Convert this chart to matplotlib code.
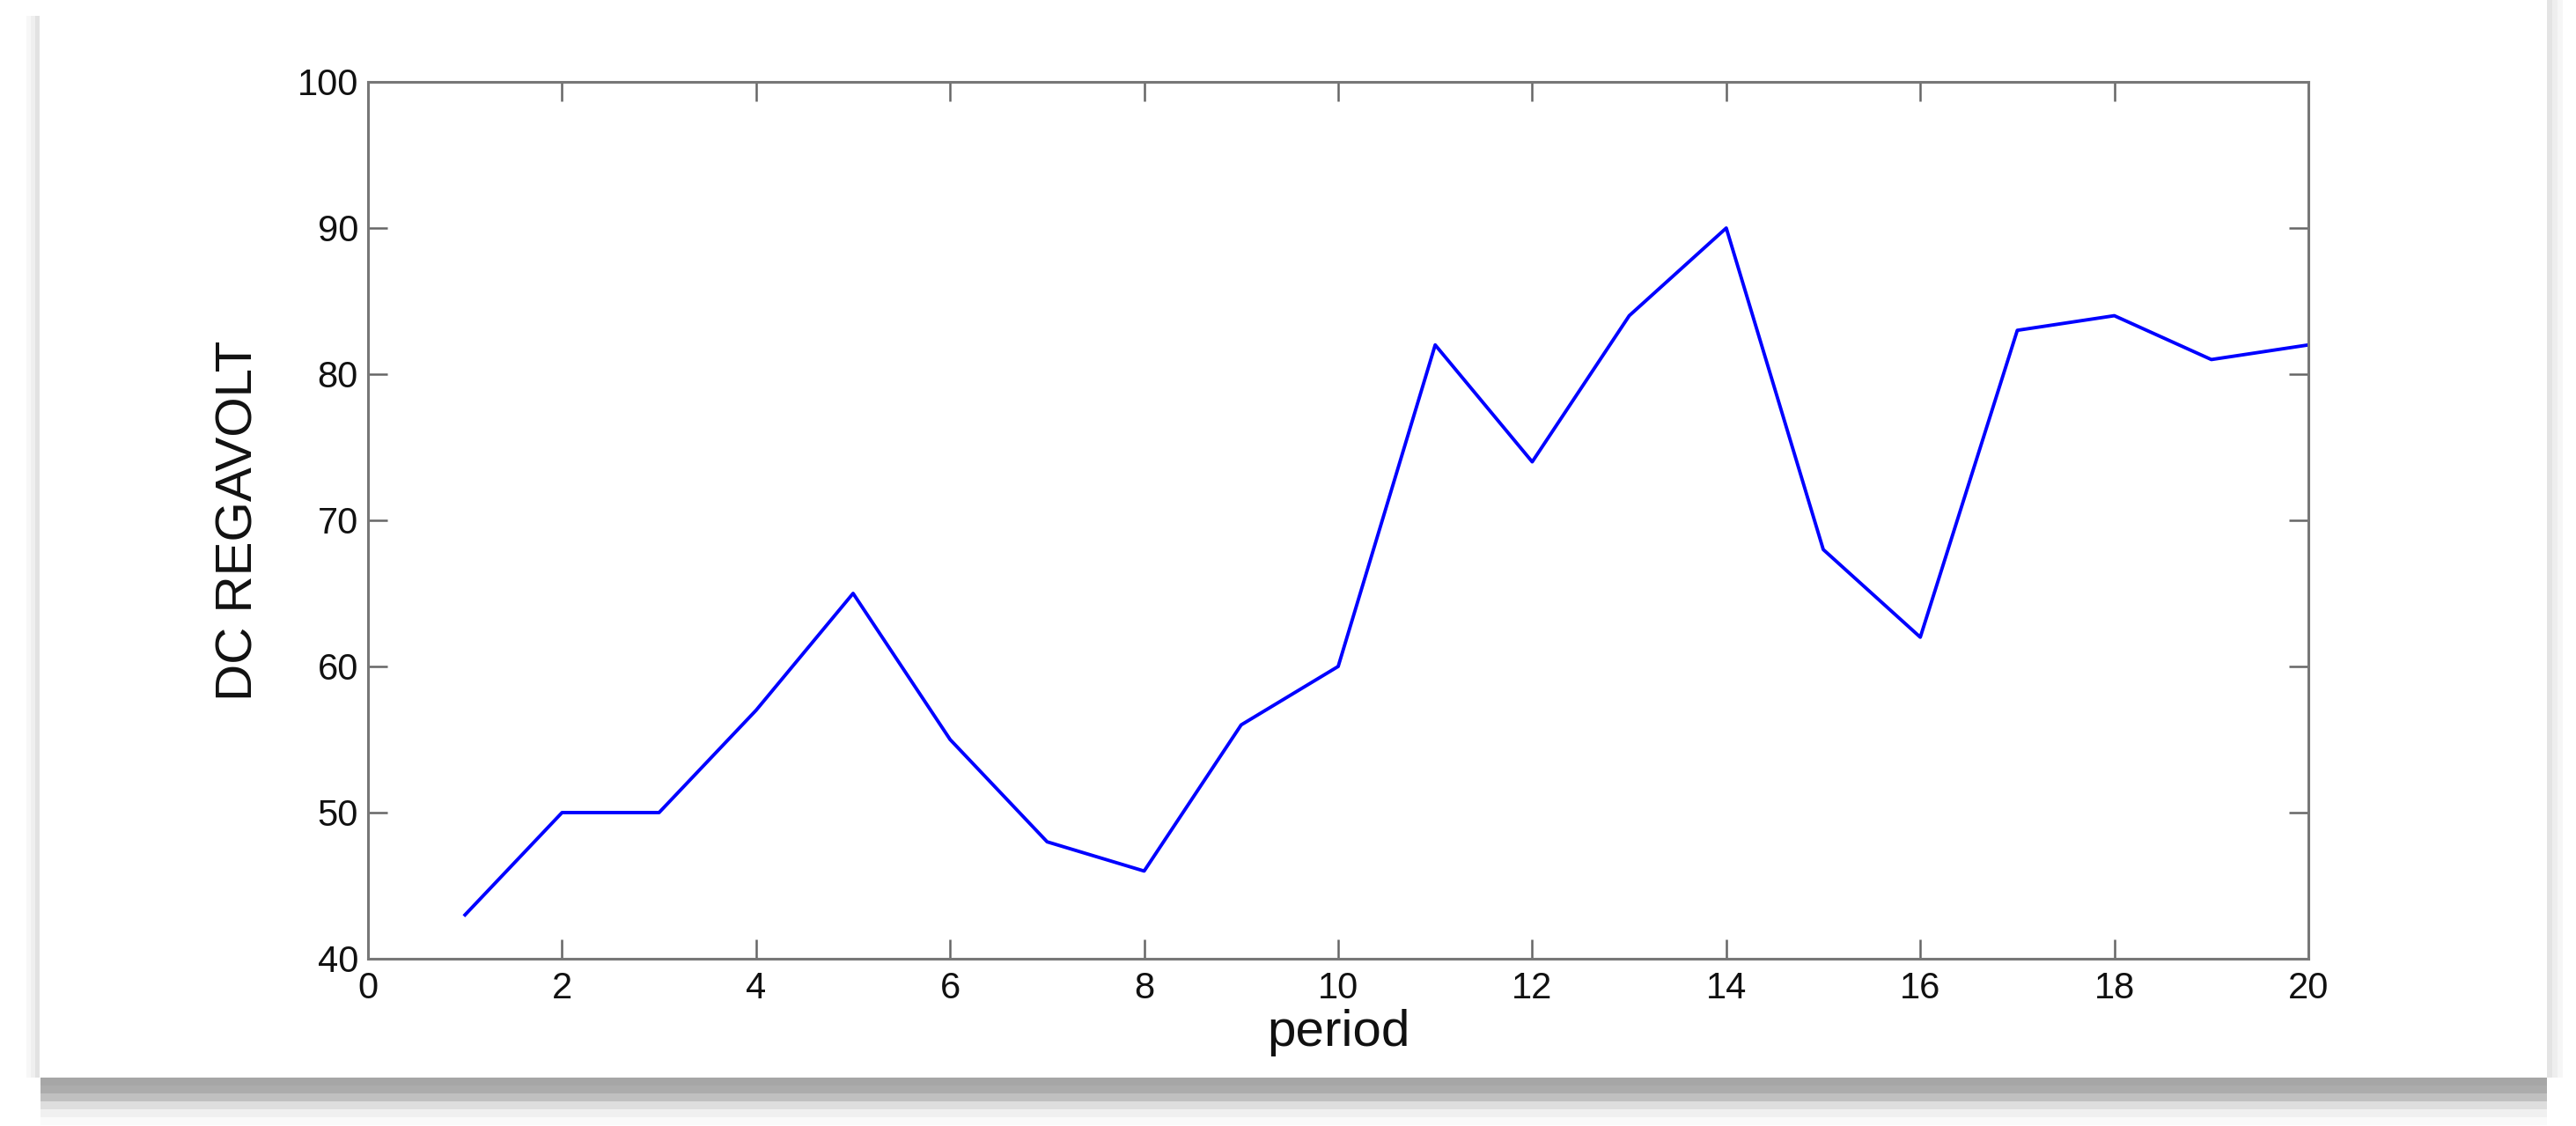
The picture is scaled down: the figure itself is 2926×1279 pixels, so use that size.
import matplotlib
matplotlib.use("Agg")
import matplotlib.pyplot as plt
from matplotlib.patches import Rectangle

# data
period = list(range(1, 21))
regavolt = [43, 50, 50, 57, 65, 55, 48, 46, 56, 60,
            82, 74, 84, 90, 68, 62, 83, 84, 81, 82]
x_ticks = list(range(0, 21, 2))
y_ticks = list(range(40, 101, 10))

W, H = 2926, 1279
plt.rcParams['font.family'] = ['Liberation Sans', 'DejaVu Sans']

fig = plt.figure(figsize=(W / 100, H / 100), dpi=100)
fig.patch.set_facecolor('white')


def px_rect(x0, y0, x1, y1, color):
    # rectangle given in image pixels (y from top)
    fig.add_artist(Rectangle((x0 / W, 1 - y1 / H), (x1 - x0) / W, (y1 - y0) / H,
                             transform=fig.transFigure, facecolor=color,
                             edgecolor='none', zorder=0))


# page frame: thin left/right edges and a bottom drop shadow
for i, c in enumerate(['#f7f7f7', '#efefef', '#e2e2e2']):
    px_rect(30 + i * 5, 18, 35 + i * 5, 1224, c)
for i, c in enumerate(['#e4e4e4', '#eeeeee', '#f6f6f6']):
    px_rect(2893 + i * 6, 0, 2899 + i * 6, 1224, c)
for i, c in enumerate(['#a6a6a6', '#acacac', '#c0c0c0', '#dedede', '#f0f0f0', '#fafafa']):
    px_rect(46, 1224 + i * 9, 2893, 1233 + i * 9, c)

ax = fig.add_axes([418 / W, 1 - 1089 / H, (2622 - 418) / W, (1089 - 93) / H])
ax.plot(period, regavolt, color='#0000ff', linewidth=2.8)

ax.set_xlim(0, 20)
ax.set_ylim(40, 100)
ax.set_xticks(x_ticks)
ax.set_yticks(y_ticks)
ax.tick_params(direction='in', length=16, width=1.8, color='#666666',
               labelsize=30, labelcolor='#111111', top=True, right=True)
ax.tick_params(axis='x', pad=10)
ax.tick_params(axis='y', pad=8)
for s in ax.spines.values():
    s.set_color('#777777')
    s.set_linewidth(2.2)

ax.set_xlabel('period', fontsize=42, color='#111111', labelpad=2)
ax.set_ylabel('DC REGAVOLT', fontsize=42, color='#111111', labelpad=28)

fig.savefig('out.png', dpi=100, facecolor='white')
